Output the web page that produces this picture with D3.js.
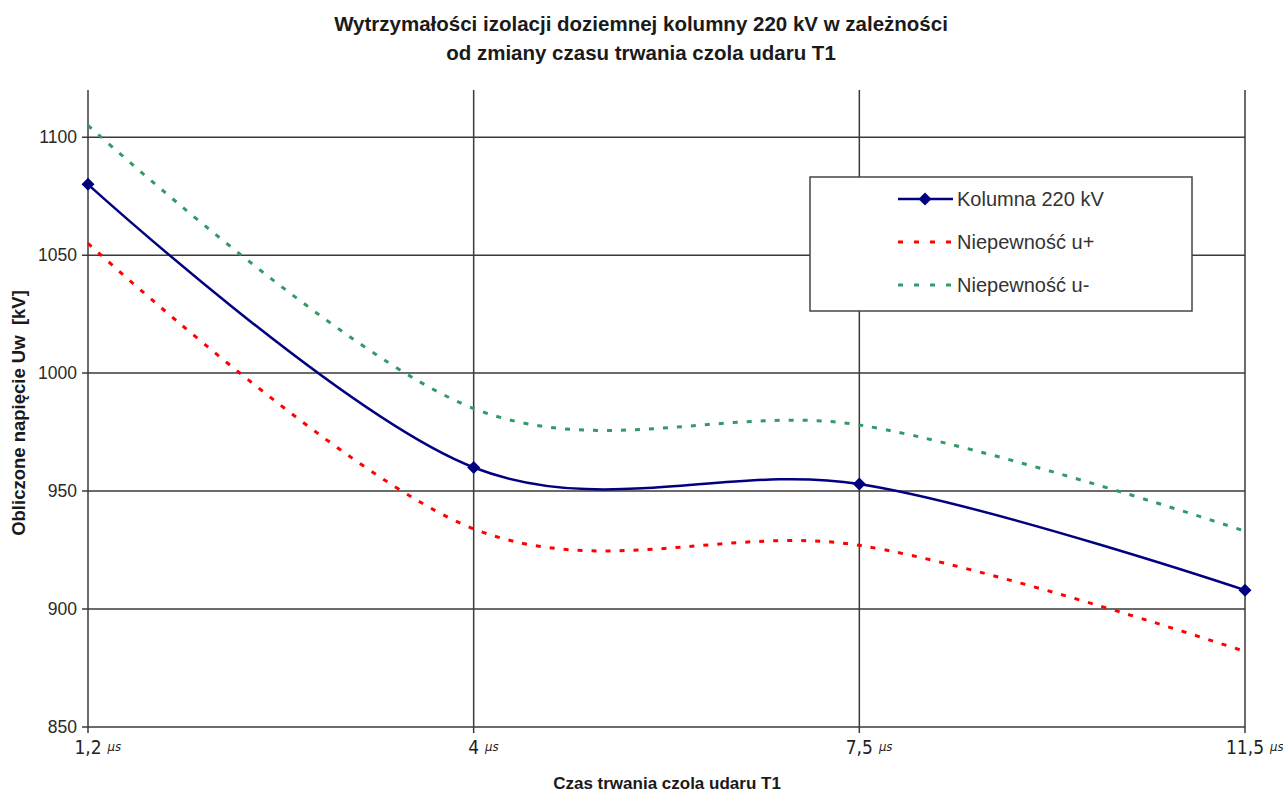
<!DOCTYPE html>
<html><head><meta charset="utf-8">
<script src="https://cdn.jsdelivr.net/npm/d3@7"></script>
<style>body{margin:0;background:#fff;} svg{display:block;font-family:Arial,"Liberation Sans",sans-serif;} text{white-space:pre;}</style>
</head><body>
<svg id="c" width="1283" height="794"></svg>
<script>
const categories = ["1,2", "4", "7,5", "11,5"];
const unitLabel = "µs";
const kolumna = [1080, 960, 953, 908];
const uPlus = [1055, 934, 927, 882];
const uMinus = [1105, 985, 978, 933];
const yTicks = [850, 900, 950, 1000, 1050, 1100];
const seriesNames = ["Kolumna 220 kV", "Niepewność u+", "Niepewność u-"];
const titleLines = ["Wytrzymałości izolacji doziemnej kolumny 220 kV w zależności", "od zmiany czasu trwania czola udaru T1"];
const xTitle = "Czas trwania czola udaru T1";
const yTitle = "Obliczone napięcie Uw  [kV]";

const svg = d3.select("#c");
const L = 88, R = 1245, T = 90, B = 727;
const x = d3.scalePoint().domain(categories).range([L, R]);
const y = d3.scaleLinear().domain([850, 1120]).range([B, T]);
const grid = "#3a3a3a";
const narrow = "'Liberation Sans Narrow','DejaVu Sans Condensed',Arial,sans-serif";

// horizontal gridlines
svg.append("g").selectAll("line").data(yTicks).join("line")
  .attr("x1", L - 6).attr("x2", R).attr("y1", d => y(d)).attr("y2", d => y(d))
  .attr("stroke", grid).attr("stroke-width", 1.5);
// vertical gridlines
svg.append("g").selectAll("line").data(categories).join("line")
  .attr("x1", d => x(d)).attr("x2", d => x(d)).attr("y1", T).attr("y2", B + 6)
  .attr("stroke", grid).attr("stroke-width", 1.5);

// y tick labels
svg.append("g").selectAll("text").data(yTicks).join("text")
  .attr("x", 77).attr("y", d => y(d) + 6).attr("text-anchor", "end")
  .attr("font-size", 17.5).attr("fill", "#2a2a2a").text(d => d);

// x tick labels
const xl = svg.append("g");
categories.forEach(c => {
  const t = xl.append("text").attr("x", x(c)).attr("y", 754).attr("text-anchor", "middle")
    .attr("font-family", narrow).attr("font-size", 19).attr("fill", "#222").text(c);
  const bb = t.node().getBBox();
  xl.append("text").attr("x", bb.x + bb.width + 6).attr("y", 751)
    .attr("font-family", narrow)
    .attr("font-style", "italic").attr("font-size", 13).attr("fill", "#222").text(unitLabel);
});

// title
svg.append("g").selectAll("text").data(titleLines).join("text")
  .attr("x", 641).attr("y", (d, i) => 31 + i * 29).attr("text-anchor", "middle")
  .attr("font-size", 20.5).attr("font-weight", "bold").attr("fill", "#1a1a1a").text(d => d);
svg.append("text").attr("x", 667).attr("y", 789).attr("text-anchor", "middle")
  .attr("font-size", 17).attr("font-weight", "bold").attr("fill", "#1a1a1a").text(xTitle);
svg.append("text").attr("transform", "translate(25,413) rotate(-90)").attr("text-anchor", "middle")
  .attr("font-size", 18.5).attr("font-weight", "bold").attr("fill", "#1a1a1a").text(yTitle);

const line = d3.line().x((d, i) => x(categories[i])).y(d => y(d)).curve(d3.curveCatmullRom.alpha(0));
const styles = [
  {data: kolumna, color: "#000080", dash: null, w: 2.5},
  {data: uPlus, color: "#ff0000", dash: "5,9", w: 3},
  {data: uMinus, color: "#339966", dash: "5,9", w: 3}
];
styles.slice().reverse().forEach(s => {
  svg.append("path").attr("d", line(s.data)).attr("fill", "none")
    .attr("stroke", s.color).attr("stroke-width", s.w)
    .attr("stroke-dasharray", s.dash);
});
const diamond = (cx, cy, r) => `M${cx},${cy - r}L${cx + r},${cy}L${cx},${cy + r}L${cx - r},${cy}Z`;
svg.append("g").selectAll("path").data(kolumna).join("path")
  .attr("d", (d, i) => diamond(x(categories[i]), y(d), 6.5)).attr("fill", "#000080");

// legend
const lg = svg.append("g");
lg.append("rect").attr("x", 810).attr("y", 177).attr("width", 382).attr("height", 134)
  .attr("fill", "#fff").attr("stroke", "#444").attr("stroke-width", 1.5);
styles.forEach((s, i) => {
  const yy = 199 + i * 43;
  lg.append("line").attr("x1", 898).attr("x2", 953).attr("y1", yy).attr("y2", yy)
    .attr("stroke", s.color).attr("stroke-width", s.w).attr("stroke-dasharray", s.dash ? "5,11" : null);
  if (i === 0) lg.append("path").attr("d", diamond(925, yy, 6.5)).attr("fill", s.color);
  lg.append("text").attr("x", 957).attr("y", yy + 7).attr("font-size", 20).attr("fill", "#333").text(seriesNames[i]);
});
</script>
</body></html>
